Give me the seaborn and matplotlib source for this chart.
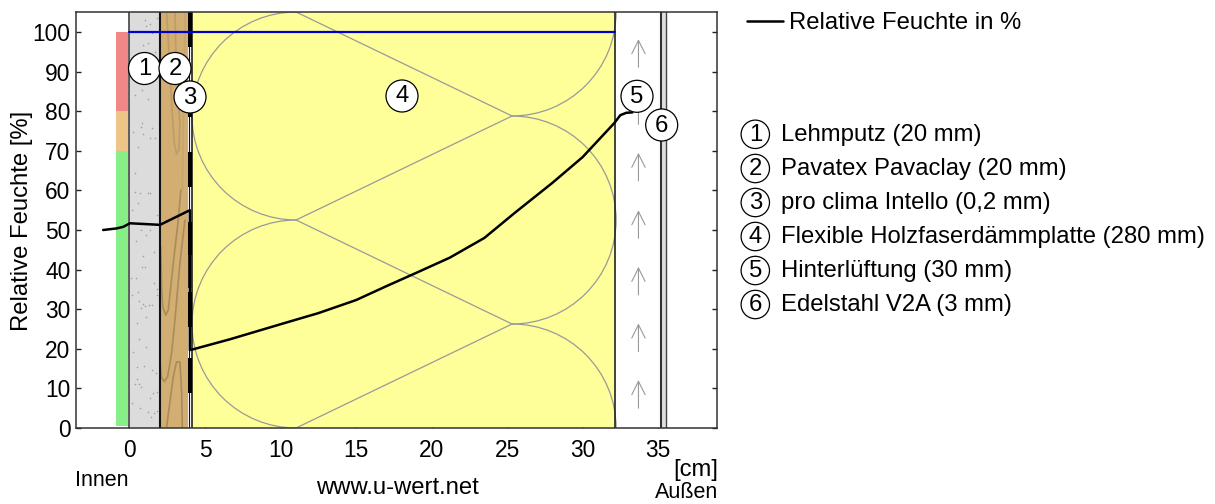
import numpy as np
import pandas as pd
import seaborn as sns
import matplotlib
matplotlib.use("Agg")
import matplotlib.pyplot as plt
from matplotlib.patches import Arc, Circle

# ---- data ----
rh_x = [-1.74, -0.85, -0.41, 0.03, 2.02, 4.0, 4.0, 4.14, 6.65, 10.0, 12.5, 15.0, 17.0, 19.0, 21.2,
        23.5, 25.5, 28.0, 30.0, 32.1, 32.5, 32.9, 33.3]
rh_y = [50.0, 50.4, 50.8, 51.7, 51.3, 55.0, 19.7, 19.8, 22.4, 26.2, 29.0, 32.3, 35.8, 39.2, 43.0,
        48.0, 54.3, 61.9, 68.4, 77.0, 79.0, 79.6, 79.7]
sat_x = [0.0, 32.14]
sat_y = [100.0, 100.0]

layer_names = ["Lehmputz (20 mm)", "Pavatex Pavaclay (20 mm)", "pro clima Intello (0,2 mm)",
               "Flexible Holzfaserdämmplatte (280 mm)", "Hinterlüftung (30 mm)", "Edelstahl V2A (3 mm)"]
layer_start = [0.0, 2.02, 3.9, 4.14, 32.14, 35.2]
layer_end = [2.02, 3.9, 4.14, 32.14, 35.2, 35.5]
layer_colors = ["#dcdcdc", "#d2ae73", "#ffffff", "#ffff99", "#ffffff", "#e0e0e0"]

zone_bottom = [0.5, 70, 80]
zone_height = [69.5, 10, 20]
zone_colors = ["#88ee88", "#eec488", "#f08888"]

x_ticks = list(range(0, 36, 5))
y_ticks = list(range(0, 101, 10))

foil_black_start = [8.84, 25.5, 43.2, 60.9, 78.5, 96.2]   # dashes of the membrane
foil_dash = 8.85
foil_half_start = 35.3
foil_half_end = 43.7

arrow_tips = [12.1, 26.4, 40.7, 55.0, 69.5, 83.8, 98.2]
arrow_len = 7.1

grain = [
    ([2.07, 2.13, 2.2, 2.4, 2.57, 2.9, 3.23, 3.4], [45.8, 35.7, 30.6, 28.5, 29.8, 41.6, 52.5, 60.0], 1.0),
    ([2.46, 2.62, 2.79, 2.97, 3.12, 3.28, 3.34, 3.12, 3.01], [104.8, 94.7, 82.0, 71.9, 69.2, 70.2, 76.9, 88.7, 104.8], 0.5),
    ([3.67, 3.34, 3.01, 2.79, 2.53, 2.3, 2.09, 2.02], [52.5, 41.6, 27.3, 18.9, 13.0, 11.7, 13.0, 17.2], 1.0),
    ([2.46, 2.9, 3.12, 3.34, 3.46, 3.5], [0.3, 13.0, 16.7, 16.7, 8.8, 0.0], 1.0),
    ([3.7, 3.6, 3.5], [105.0, 85.0, 60.0], 0.25),
]

# plaster speckle (crop px)
sp_low = [(47,30),(75,30),(62,45),(33,62),(88,95),(55,107),(50,140),(60,140),(17,175),(33,175),(87,190),(97,207),
          (40,217),(20,225),(97,225),(43,242),(55,252),(47,265),(60,258),(72,255),(80,255),(62,292),(36,310),(43,358),
          (63,381),(25,397),(37,440),(57,437),(80,450),(92,458),(37,477),(30,492),(42,492),(47,500),(96,517),(83,520),
          (75,535),(20,550),(45,565),(70,577),(87,580),(97,572),(77,592)]
sp_up = [(60,30),(75,42),(62,47),(55,62),(80,70),(95,25),(70,100),(55,105),(90,125),(30,255),(50,240),(70,268),
         (50,340),(48,352),(25,365),(55,372),(80,355),(75,385),(90,385),(40,410),(30,490),(30,545),(45,550),(68,550),
         (40,580),(75,550),(95,615),(20,600)]

# ---- figure ----
sns.set_theme(style="white")
plt.rcParams["font.family"] = ["Liberation Sans", "DejaVu Sans"]
FS = 17.2
FT = 16.4
FO = 15.5
W, H = 1215, 504
fig = plt.figure(figsize=(W / 100, H / 100), dpi=100)
L, R, T, B = 76, 717, 12, 428
ax = fig.add_axes([L / W, 1 - B / H, (R - L) / W, (B - T) / H])
ax.set_xlim(-3.54, 38.9)
ax.set_ylim(0, 105.05)

for s, e, c in zip(layer_start, layer_end, layer_colors):
    ax.axvspan(s, e, color=c, lw=0, zorder=1)
ax.bar([-0.5] * 3, zone_height, width=0.8, bottom=zone_bottom, color=zone_colors, lw=0, zorder=1)

# wood grain
for gx, gy, a in grain:
    ax.plot(gx, gy, color="#a98c5a", lw=1.2, alpha=a, zorder=1.5, solid_capstyle="round")

# plaster speckle
sx = [(h / 3 + 125 - 129.5) / 15.1 for h, v in sp_low + sp_up]
sy = [(428 - (220 + v / 3)) / 3.96 for h, v in sp_low] + [(428 - (10 + v / 3)) / 3.96 for h, v in sp_up]
ax.scatter(sx, sy, s=1.3, color="#a0a0a0", lw=0, zorder=1.5)

# insulation pattern
arc_kw = dict(color="#999999", lw=0.9, zorder=1.6)
wcm, hh = 2 * 6.89, 2 * 26.26
xa, xb = 11.03, 25.33
for yc in (78.79, 26.26):
    ax.add_patch(Arc((xa, yc), wcm, hh, theta1=90, theta2=270, **arc_kw))
ax.add_patch(Arc((xb, 52.52), wcm, hh, theta1=-90, theta2=90, **arc_kw))
ax.add_patch(Arc((xb, 105.05), wcm, hh, theta1=270, theta2=360, **arc_kw))
ax.add_patch(Arc((xb, 0), wcm, hh, theta1=0, theta2=90, **arc_kw))
for y0, y1 in ((105.05, 78.79), (52.52, 78.79), (52.52, 26.26), (0, 26.26)):
    ax.plot([xa, xb], [y0, y1], color="#999999", lw=0.9, zorder=1.6)

# layer borders
for xv, lw, col in [(0, 1.2, "#444444"), (2.02, 1.5, "#111111"), (3.95, 0.8, "#111111"),
                    (4.14, 1.1, "#111111"), (32.14, 1.2, "#222222"), (35.2, 1.5, "#333333"), (35.5, 1.0, "#444444")]:
    ax.axvline(xv, color=col, lw=lw, zorder=1.8)

# membrane dashes
for st in foil_black_start:
    ax.fill_between([3.9, 4.14], [st, st], [st + foil_dash, st + foil_dash], color="black", lw=0, zorder=1.9)
ax.fill_between([3.9, 4.14], [foil_half_start] * 2, [foil_half_end] * 2, color="#333333", lw=0, zorder=1.9)
ax.plot([4.02, 4.02], [foil_half_start, foil_half_end], color="#999999", lw=0.7, zorder=1.95)

# ventilation arrows
for tip in arrow_tips:
    ax.annotate("", xy=(33.7, tip), xytext=(33.7, tip - arrow_len), zorder=1.7,
                arrowprops=dict(arrowstyle="->,head_length=0.8,head_width=0.4", color="#999999", lw=0.8,
                                shrinkA=0, shrinkB=0))

# lines
sns.lineplot(data=pd.DataFrame({"x": sat_x, "y": sat_y}), x="x", y="y", ax=ax, color="#0000cc", lw=1.6,
             sort=False, estimator=None, zorder=2.5, legend=False)
sns.lineplot(data=pd.DataFrame({"x": rh_x, "y": rh_y}), x="x", y="y", ax=ax, color="black", lw=1.8,
             sort=False, estimator=None, zorder=2.6, label="Relative Feuchte in %")

ax.set_xticks(x_ticks)
ax.set_yticks(y_ticks)
ax.tick_params(direction="in", top=True, right=True, left=True, bottom=True, length=3.8, width=1.0,
               color="#222222", labelsize=FT, labelcolor="black")
ax.tick_params(axis="y", pad=4)
ax.tick_params(axis="x", pad=8)
for sp in ax.spines.values():
    sp.set_color("#333333")
    sp.set_linewidth(1.1)
    sp.set_zorder(5)
ax.set_xlabel("")
ax.set_ylabel("")
leg = ax.legend(loc="upper left", bbox_to_anchor=(747 / W, 1 - 12 / H), bbox_transform=fig.transFigure, frameon=False,
                fontsize=FS, handlelength=1.5, handletextpad=0.25, borderaxespad=0, borderpad=0, labelcolor="black")

# overlay in pixel units for numbered callouts and the outer captions
ov = fig.add_axes([0, 0, 1, 1], facecolor="none")
ov.set_xlim(0, W)
ov.set_ylim(H, 0)
ov.axis("off")

callouts = [(144.5, 68.5), (175, 68.5), (190, 97), (402, 96), (637, 96.3), (661.7, 125)]
for i, (cx, cy) in enumerate(callouts):
    ov.add_patch(Circle((cx, cy), 16, fc="white", ec="black", lw=0.9, zorder=6))
    ov.text(cx, cy + 0.5, str(i + 1), ha="center", va="center", fontsize=FS, zorder=7, color="black")

key_y = [134.3, 168.5, 202.5, 236.5, 270.5, 304.5]
for i, (ky, nm) in enumerate(zip(key_y, layer_names)):
    ov.add_patch(Circle((755.3, ky), 14.2, fc="white", ec="black", lw=0.9))
    ov.text(755.3, ky + 0.5, str(i + 1), ha="center", va="center", fontsize=FS, color="black")
    ov.text(781, ky + 0.5, nm, ha="left", va="center", fontsize=FS, color="black")

ov.text(22, 221, "Relative Feuchte [%]", rotation=90, ha="center", va="center", fontsize=FS, color="black")
ov.text(75, 480, "Innen", ha="left", va="center", fontsize=FO, color="black")
ov.text(397, 488, "www.u-wert.net", ha="center", va="center", fontsize=FS, color="black")
ov.text(718, 470, "[cm]", ha="right", va="center", fontsize=FS, color="black")
ov.text(718, 493, "Außen", ha="right", va="center", fontsize=FO, color="black")

fig.savefig("out.png", dpi=100)
